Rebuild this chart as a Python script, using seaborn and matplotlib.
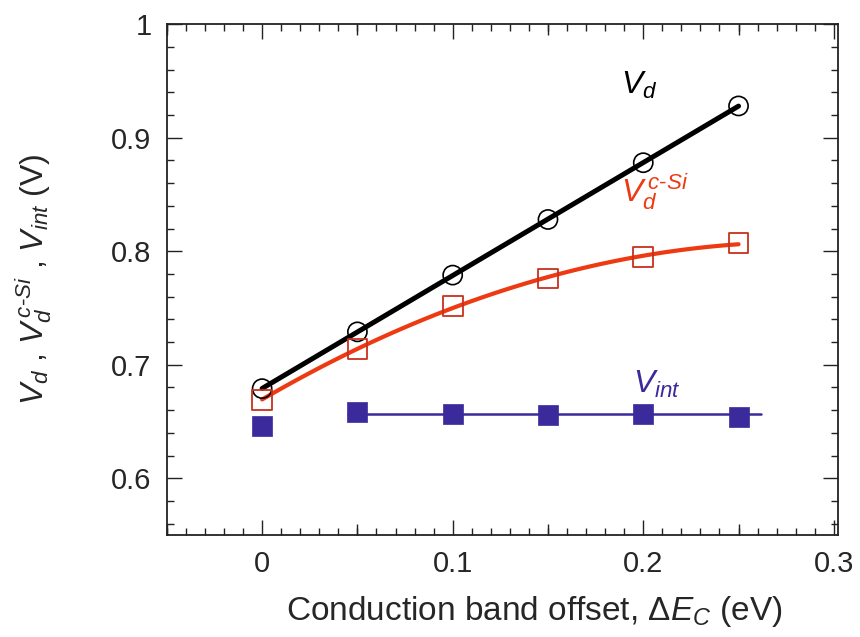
import numpy as np
import matplotlib
matplotlib.use("Agg")
import matplotlib.pyplot as plt
from matplotlib.ticker import MultipleLocator, FixedLocator, NullFormatter, FuncFormatter
import seaborn as sns

# conduction band offset (eV)
offset = [0.0, 0.05, 0.10, 0.15, 0.20, 0.25]
v_d = [0.679, 0.729, 0.779, 0.828, 0.878, 0.928]
v_d_csi = [0.669, 0.714, 0.752, 0.776, 0.795, 0.807]
v_int = [0.646, 0.658, 0.657, 0.656, 0.657, 0.654]

# extent of the flat V_int guide line
vint_line_x = [0.045, 0.262]

black = "#000000"
red = "#ee3a12"
red_edge = "#c8301c"
blue = "#3a2a9c"

sns.set_theme(style="ticks")
plt.rcParams["font.family"] = ["Liberation Sans", "DejaVu Sans"]
plt.rcParams["mathtext.fontset"] = "custom"
plt.rcParams["mathtext.it"] = "Liberation Sans:italic"
plt.rcParams["mathtext.rm"] = "Liberation Sans"

fig = plt.figure(figsize=(8.6, 6.37), dpi=100)
ax = fig.add_axes([0.194, 0.160, 0.780, 0.802])

# fitted guide lines
fx = np.linspace(offset[0], offset[-1], 100)
k1 = np.polyfit(offset, v_d, 1)
k2 = np.polyfit(offset, v_d_csi, 2)
sns.lineplot(x=fx, y=np.polyval(k1, fx), ax=ax, color=black, lw=3.6, zorder=3)
sns.lineplot(x=fx, y=np.polyval(k2, fx), ax=ax, color=red, lw=3.0, zorder=3)
vint_mean = np.mean(v_int[1:])
sns.lineplot(x=vint_line_x, y=[vint_mean, vint_mean], ax=ax, color=blue, lw=1.8, zorder=2)

# data points
sns.scatterplot(x=offset, y=v_d, ax=ax, marker="o", s=190, facecolor="none",
                edgecolor=black, linewidth=1.2, zorder=4)
sns.scatterplot(x=offset, y=v_d_csi, ax=ax, marker="s", s=200, facecolor="none",
                edgecolor=red_edge, linewidth=1.3, zorder=4)
sns.scatterplot(x=offset, y=v_int, ax=ax, marker="s", s=210, color=blue,
                edgecolor=blue, linewidth=0.5, zorder=4)

ax.text(0.198, 0.946, r"$V_d$", fontsize=23, color=black, ha="center", va="center")
ax.text(0.206, 0.852, r"$V_d^{\,c\mathrm{\text{-}}Si}$", fontsize=23, color=red,
        ha="center", va="center")
ax.text(0.207, 0.683, r"$V_{int}$", fontsize=23, color=blue, ha="center", va="center")

ax.set_xlim(-0.05, 0.302)
ax.set_ylim(0.55, 1.0)
fmt = FuncFormatter(lambda v, p: "%g" % round(v, 2))
ax.xaxis.set_major_locator(FixedLocator([0, 0.1, 0.2, 0.3]))
ax.xaxis.set_major_formatter(fmt)
ax.xaxis.set_minor_locator(MultipleLocator(0.01))
ax.yaxis.set_major_locator(MultipleLocator(0.1))
ax.yaxis.set_major_formatter(fmt)
ax.yaxis.set_minor_locator(MultipleLocator(0.02))
ax.tick_params(which="both", direction="in", top=True, right=True, width=1.0,
               color="#222222")
ax.tick_params(which="major", length=11, labelsize=21, pad=11)
ax.tick_params(which="minor", length=5)

# medium ticks at the half steps on both x edges
for side in ["bottom", "top"]:
    sec = ax.secondary_xaxis(side)
    sec.set_xticks([-0.05, 0.05, 0.15, 0.25])
    sec.xaxis.set_major_formatter(NullFormatter())
    sec.tick_params(direction="in", length=8, width=1.0, color="#222222")
    sec.spines[side].set_visible(False)

for sp in ax.spines.values():
    sp.set_linewidth(1.3)
    sp.set_color("#222222")

ax.set_xlabel(r"Conduction band offset, $\Delta E_C$ (eV)", fontsize=24, labelpad=8)
ax.xaxis.set_label_coords(0.548, -0.115)
ax.set_ylabel(r"$V_d$ , $V_d^{\,c\mathrm{\text{-}}Si}$ , $V_{int}$ (V)", fontsize=23,
              labelpad=14)
ax.yaxis.set_label_coords(-0.168, 0.5)

fig.savefig("out.png", dpi=100)
